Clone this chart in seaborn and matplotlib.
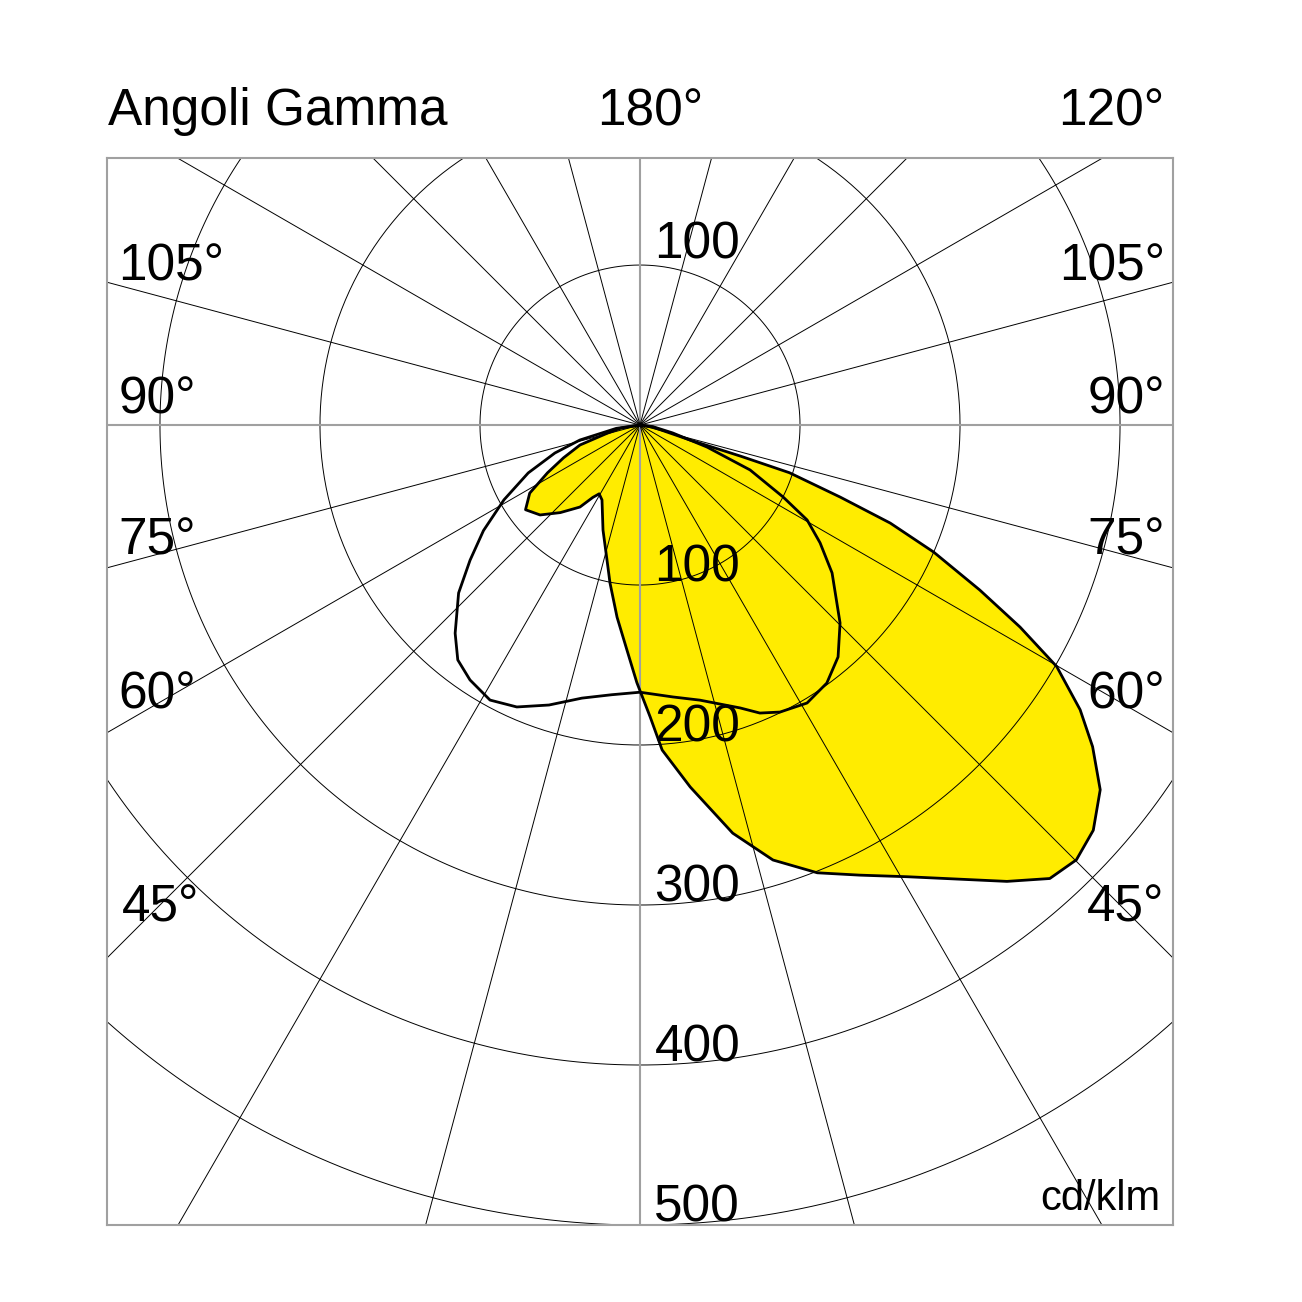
import numpy as np
import pandas as pd
import seaborn as sns
from matplotlib import pyplot as plt

# C0-C180 plane (filled, yellow): gamma in degrees (negative = left side), intensity in cd/klm
yellow_gamma = [-90, -81, -76, -71.6, -66.8, -62.7, -58.3, -53.5, -48, -42.3, -36.2, -33.1, -30.7,
                -26.9, -19.4, -13.7, -10.75, -6.8, -3.3, -0.7, 2, 3.9, 7.9, 12.8, 17, 21.6, 26,
                30.6, 34.9, 38.8, 42.1, 45.1, 48.2, 51.6, 54.6, 57.1, 59.9, 62, 64.1, 66.6, 68.6,
                70.2, 72.3, 72.8, 73.3, 81, 90]
yellow_cd = [0, 12, 21, 39.5, 52, 65, 81, 89, 84, 74, 63.5, 54, 50,
             52.5, 69.6, 87, 100.5, 121, 141, 161, 182.6, 203.6, 228.4, 261.6, 284.3, 301, 313,
             328, 346, 366, 382, 385, 380, 367, 347, 327.6, 301, 269, 236, 200, 168,
             133, 98, 66, 33, 8, 0]

# C90-C270 plane (black outline)
black_gamma = [-90, -82, -76, -71.8, -66.8, -61.2, -56, -51.5, -47.2, -41.6, -37.8, -33.7, -28.6,
               -23.6, -18, -12, -6, 0, 6.9, 12.3, 19.5, 22.6, 26, 31, 35.9, 40.5, 45.3,
               52.4, 56.8, 60.4, 63.3, 67.8, 71.8, 76.4, 83, 90]
black_cd = [0, 15, 38.7, 56, 76, 97, 118, 135.7, 154.5, 174, 185.8, 191.5, 195.8,
            192.3, 184, 174.5, 169.5, 167, 171.2, 176, 187.6, 195, 199.6, 202.7, 199.1, 190.6, 175.9,
            151.5, 134.5, 120.1, 100.1, 74.3, 44.1, 21, 8, 0]

rings = [100, 200, 300, 400, 500]
spokes = np.arange(-180, 180, 15)
side_labels = [105, 90, 75, 60, 45]
side_label_y = [90.6, 7.5, -81, -177, -310.6]


def to_xy(g, r):
    g = np.radians(np.asarray(g, dtype=float))
    r = np.asarray(r, dtype=float)
    return r * np.sin(g), -r * np.cos(g)


sns.set_theme(style='white')
plt.rcParams['font.family'] = ['Liberation Sans', 'DejaVu Sans']
plt.rcParams['text.color'] = 'black'

fig = plt.figure(figsize=(13.02, 13.02), dpi=100)
ax = fig.add_axes([107 / 1302, 77 / 1302, 1066 / 1302, 1067 / 1302])

yx, yy = to_xy(yellow_gamma, yellow_cd)
bx, by = to_xy(black_gamma, black_cd)
df_y = pd.DataFrame({'x': yx, 'y': yy})
df_b = pd.DataFrame({'x': bx, 'y': by})

ax.fill(df_y['x'], df_y['y'], color='#ffec00', lw=0, zorder=1)

# grid
t = np.linspace(0, 2 * np.pi, 400)
for r in rings:
    ax.plot(r * np.cos(t), r * np.sin(t), color='black', lw=0.7, zorder=2)
for g in spokes:
    sx, sy = to_xy([g, g], [0, 1200])
    if g % 90 == 0:
        ax.plot(sx, sy, color='#a0a0a0', lw=1.5, zorder=2)
    else:
        ax.plot(sx, sy, color='black', lw=0.7, zorder=2)

sns.lineplot(data=df_y, x='x', y='y', sort=False, estimator=None, color='black', lw=2,
             ax=ax, zorder=3)
sns.lineplot(data=df_b, x='x', y='y', sort=False, estimator=None, color='black', lw=2,
             ax=ax, zorder=3)

ax.set_xlim(-333.1, 333.1)
ax.set_ylim(-500, 166.9)
ax.set_xticks([])
ax.set_yticks([])
ax.set_xlabel('')
ax.set_ylabel('')
for s in ax.spines.values():
    s.set_color('#a0a0a0')
    s.set_linewidth(1.5)

fs = 37
ax.text(-332.5, 187.5, 'Angoli Gamma', fontsize=fs, ha='left', va='baseline', clip_on=False)
ax.text(-26.9, 187.5, '180°', fontsize=fs, ha='left', va='baseline', clip_on=False)
ax.text(328, 187.5, '120°', fontsize=fs, ha='right', va='baseline', clip_on=False)
for lab, ly in zip(side_labels, side_label_y):
    lx = -326 if lab != 45 else -323.5
    ax.text(lx, ly, f'{lab}°', fontsize=fs, ha='left', va='baseline', zorder=4)
    ax.text(328, ly, f'{lab}°', fontsize=fs, ha='right', va='baseline', zorder=4)

ax.text(9, rings[0] + 4, str(rings[0]), fontsize=fs, ha='left', va='baseline', zorder=4)
for r in rings:
    ax.text(9, -r + 2, str(r), fontsize=fs, ha='left', va='baseline', zorder=4)

ax.text(325, -490.6, 'cd/klm', fontsize=30, ha='right', va='baseline', zorder=4)

fig.savefig('out.png', dpi=100, facecolor='white')
